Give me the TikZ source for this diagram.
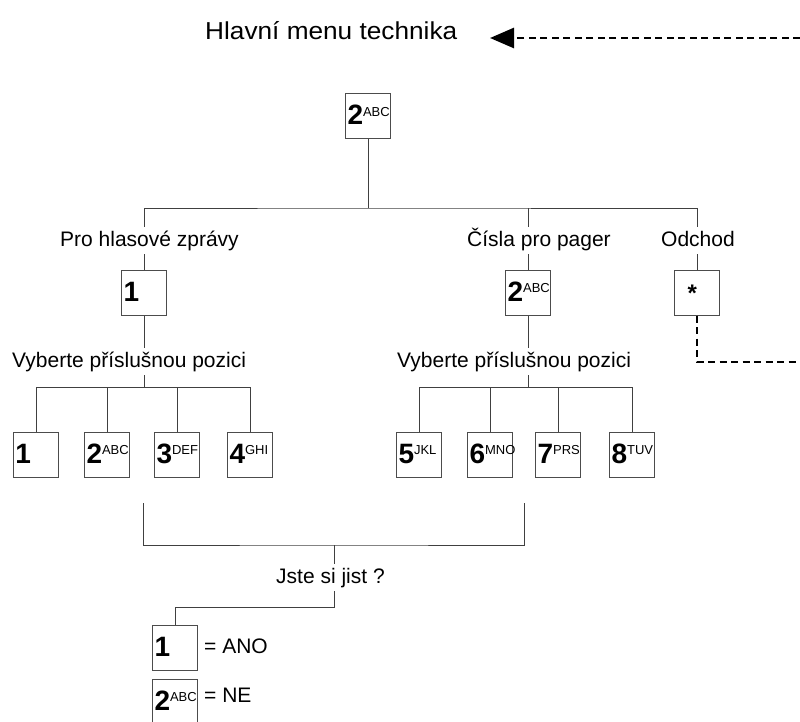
\documentclass[tikz,border=0pt]{standalone}
\usepackage{fontspec}
\setmainfont{Liberation Sans}
\newfontfamily\nadpis[FakeStretch=1.07]{Liberation Sans}
\usetikzlibrary{arrows.meta}

\newcommand{\klav}[2]{{\fontsize{28}{30}\selectfont\bfseries #1}\raisebox{8.5pt}{\fontsize{13}{13}\selectfont #2}}

\begin{document}
\begin{tikzpicture}[x=1pt,y=-1pt,
    klavesa/.style={draw=black!70, line width=1pt, inner xsep=2pt, inner ysep=0pt, text width=41pt, align=left, text height=31pt, text depth=14pt},
    popis/.style={font=\fontsize{21}{25}\selectfont, inner xsep=0pt, inner ysep=3pt, text height=16pt, text depth=5pt, anchor=base west},
    cara/.style={draw=black!75, line width=0.9pt},
    zpet/.style={draw=black, line width=2.7pt, dash pattern=on 7pt off 4.5pt}]
    \useasboundingbox (0,0) rectangle (800,722);
    \node[anchor=base west, inner sep=0pt, font=\nadpis\fontsize{24.5}{28}\selectfont] (menu) at (205,40) {Hlavní menu technika};
    \coordinate (zpetA) at (800,38);
    \coordinate (sipka) at (490,38);
    \draw[zpet, -{Triangle[length=24pt,width=20pt]}] (zpetA) -- (sipka);

    \node[klavesa] (klic2) at (368,116.5) {\klav{2}{ABC}};
    \coordinate (rozvod) at (368,208);
    \node[popis] (hlas) at (60,246) {Pro hlasové zprávy};
    \node[popis] (pager) at (467,246) {Čísla pro pager};
    \node[popis] (odchod) at (661,246) {Odchod};
    \node[klavesa] (klic1) at (144,292.5) {\klav{1}{}};
    \node[klavesa] (klic2b) at (528,292.5) {\klav{2}{ABC}};
    \node[klavesa] (klicstar) at (697,292.5) {\hspace*{11pt}{\fontsize{24}{24}\selectfont\bfseries *}};
    \draw[cara] (klic2) -- (rozvod);
    \draw[cara] (klic1 |- hlas.north) |- (rozvod) -| (klicstar |- odchod.north);
    \draw[cara] (klic2b |- pager.north) -- (klic2b |- rozvod);
    \draw[cara] (klic1) -- (klic1 |- hlas.south);
    \draw[cara] (klic2b) -- (klic2b |- pager.south);
    \draw[cara] (klicstar) -- (klicstar |- odchod.south);

    \node[popis] (vyber1) at (12,367) {Vyberte příslušnou pozici};
    \node[popis] (vyber2) at (397,367) {Vyberte příslušnou pozici};
    \coordinate (pas) at (0,387);
    \draw[cara] (klic1) -- (klic1 |- vyber1.north);
    \draw[cara] (klic2b) -- (klic2b |- vyber2.north);
    \draw[cara] (vyber1.south -| klic1) -- (klic1 |- pas);
    \draw[cara] (vyber2.south -| klic2b) -- (klic2b |- pas);
    \foreach \x/\c/\s [count=\i] in {36/1/, 107/2/ABC, 177/3/DEF, 250/4/GHI} {
        \node[klavesa] (a\i) at (\x,454.5) {\klav{\c}{\s}};
        \draw[cara] (a\i) -- (a\i |- pas);
    }
    \foreach \x/\c/\s [count=\i] in {419/5/JKL, 490/6/MNO, 558/7/PRS, 632/8/TUV} {
        \node[klavesa] (b\i) at (\x,454.5) {\klav{\c}{\s}};
        \draw[cara] (b\i) -- (b\i |- pas);
    }
    \draw[cara] (a1 |- pas) -- (a4 |- pas);
    \draw[cara] (b1 |- pas) -- (b4 |- pas);

    \coordinate (zavL) at (143,503);
    \coordinate (zavR) at (524,503);
    \coordinate (spoj) at (334,545);
    \draw[cara] (zavL) |- (spoj) -| (zavR);
    \node[popis] (jiste) at (276,583) {Jste si jist ?};
    \draw[cara] (spoj) -- (spoj |- jiste.north);
    \node[klavesa] (ano) at (175,648) {\klav{1}{}};
    \node[klavesa] (ne) at (175,701.5) {\klav{2}{ABC}};
    \draw[cara] (jiste.south -| spoj) -- ++(0,16) -| (ano);
    \node[popis] (anotext) at (204,653) {= ANO};
    \node[popis] (netext) at (204,702) {= NE};

    \coordinate (zpetB) at (800,362);
    \draw[zpet] (klicstar) |- (zpetB);
\end{tikzpicture}
\end{document}
